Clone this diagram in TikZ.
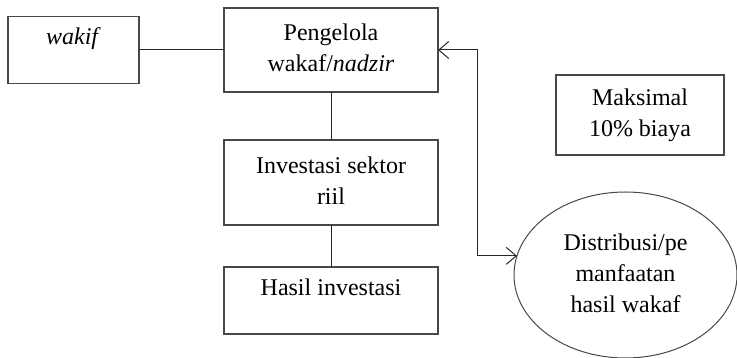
\documentclass[tikz,border=0pt]{standalone}
\usepackage{fontspec}
\setmainfont{Liberation Serif}
\usepackage{tikz}
\usetikzlibrary{arrows.meta,positioning,shapes.geometric}
\definecolor{edge}{RGB}{72,72,72}
\tikzstyle{blok}=[draw=edge, line width=1.2pt, outer sep=0pt, inner sep=0pt, align=center, minimum width=214pt]
\tikzstyle{info}=[blok, minimum width=168pt, minimum height=80pt]
\tikzstyle{distribusi}=[draw=edge, ellipse, line width=1pt, outer sep=0pt, inner sep=0pt, align=center, minimum width=223pt, minimum height=166pt]
\tikzstyle{link}=[draw=black!85, line width=1pt]

\begin{document}
\begin{tikzpicture}[x=1pt,y=1pt,>={Straight Barb[length=10pt,width=17pt]},font=\fontsize{24}{31}\selectfont]
		    \useasboundingbox (0,0) rectangle (737,358);
		    \node [blok, minimum height=84pt] (peng) at (331,308) {\strut Pengelola\\\strut wakaf/\textit{nadzir}};
		    \node [blok, minimum width=131pt, minimum height=67pt] (wakif) [left=85pt of peng] {\strut\textit{wakif}\\[-8pt]\strut};
		    \node [blok, minimum height=85pt] (inv) [below=48pt of peng] {\strut Investasi sektor\\\strut riil};
		    \node [blok, minimum height=67pt] (hasil) [below=42pt of inv] {\strut Hasil investasi\\[-8pt]\strut};
		    \node [info] (maks) at (640,243) {\strut Maksimal\\\strut 10\% biaya};
		    \node [distribusi] (dist) at (625.5,83) {\strut Distribusi/pe\\\strut manfaatan\\\strut hasil wakaf};
		    \coordinate (riser) at ([xshift=39pt]peng.east);
		    \path[link]
		    (wakif) edge (peng)
		    (peng) edge (inv)
		    (inv) edge (hasil);
		    \draw[link,<->] (peng.east) -- (riser) |- (dist.170);
\end{tikzpicture}
\end{document}
